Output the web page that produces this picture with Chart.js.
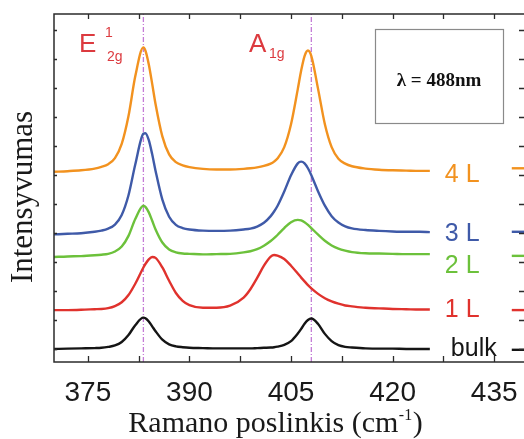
<!DOCTYPE html>
<html>
<head>
<meta charset="utf-8">
<title>MoS2 Raman spectra</title>
<script src="https://cdn.jsdelivr.net/npm/chart.js@4.4.1/dist/chart.umd.min.js"></script>
<style>
  html, body { margin: 0; padding: 0; background: #fff; overflow: hidden; width: 524px; height: 439px; }
  #wrap { width: 540px; height: 439px; }
</style>
</head>
<body>
<div id="wrap"><canvas id="raman" width="540" height="439"></canvas></div>
<script>
// Raman shift sampling points, cm^-1
const ramanShift = [370, 372, 374, 376, 377, 378, 379, 380, 381, 382, 383.2, 383.5, 384, 384.5, 385,
  386, 387, 388, 389, 390, 392, 394, 396, 398, 399, 400, 401, 402, 402.5, 403, 404, 405, 406, 406.5,
  407, 407.5, 408, 409, 410, 411, 412, 413, 414, 416, 418, 420, 422, 424, 425.5];

// Intensity (a.u., vertically offset) for each sample thickness
const layer4 = [6.11, 6.13, 6.16, 6.22, 6.28, 6.37, 6.58, 7.07, 8.03, 9.40, 10.40, 10.29, 9.81, 9.14, 8.44,
  7.33, 6.71, 6.44, 6.33, 6.27, 6.21, 6.19, 6.19, 6.21, 6.23, 6.26, 6.31, 6.39, 6.46, 6.57, 6.96, 7.75, 8.96, 9.60,
  10.10, 10.29, 10.10, 8.96, 7.75, 6.96, 6.56, 6.39, 6.30, 6.22, 6.18, 6.16, 6.15, 6.14, 6.14];
const layer3 = [3.95, 3.97, 3.99, 4.04, 4.08, 4.15, 4.29, 4.62, 5.30, 6.36, 7.42, 7.44, 7.20, 6.71, 6.14,
  5.15, 4.56, 4.28, 4.17, 4.12, 4.08, 4.07, 4.08, 4.12, 4.15, 4.22, 4.35, 4.58, 4.74, 4.93, 5.43, 5.99, 6.40, 6.46,
  6.40, 6.23, 5.99, 5.43, 4.94, 4.58, 4.36, 4.23, 4.16, 4.10, 4.07, 4.05, 4.04, 4.04, 4.03];
const layer2 = [3.17, 3.19, 3.20, 3.23, 3.25, 3.28, 3.36, 3.53, 3.90, 4.48, 4.94, 4.90, 4.71, 4.42, 4.12,
  3.67, 3.43, 3.33, 3.29, 3.28, 3.26, 3.27, 3.28, 3.33, 3.37, 3.44, 3.56, 3.72, 3.82, 3.93, 4.17, 4.37, 4.45, 4.43,
  4.37, 4.28, 4.17, 3.94, 3.73, 3.57, 3.46, 3.39, 3.34, 3.30, 3.29, 3.28, 3.27, 3.27, 3.27];
const layer1 = [1.34, 1.34, 1.35, 1.37, 1.38, 1.41, 1.48, 1.61, 1.86, 2.25, 2.81, 2.93, 3.09, 3.17, 3.14,
  2.81, 2.35, 1.93, 1.66, 1.51, 1.42, 1.42, 1.49, 1.77, 2.06, 2.45, 2.87, 3.18, 3.24, 3.22, 3.10, 2.87, 2.60, 2.46,
  2.33, 2.20, 2.09, 1.90, 1.75, 1.64, 1.56, 1.50, 1.47, 1.42, 1.40, 1.38, 1.37, 1.36, 1.36];
const bulk = [0.00, 0.01, 0.02, 0.03, 0.04, 0.07, 0.12, 0.24, 0.48, 0.82, 1.08, 1.06, 0.95, 0.78, 0.61,
  0.32, 0.16, 0.09, 0.06, 0.04, 0.03, 0.02, 0.02, 0.02, 0.02, 0.03, 0.04, 0.05, 0.06, 0.08, 0.14, 0.27, 0.53, 0.69,
  0.87, 1.00, 1.05, 0.86, 0.52, 0.27, 0.13, 0.07, 0.05, 0.02, 0.01, 0.01, 0.00, 0.00, 0.00];

// Trace names, top to bottom
const traceNames = ['4 L', '3 L', '2 L', '1 L', 'bulk'];
// Levels of the short trace stubs at the right edge, same order
const edgeLevels = [6.23, 4.04, 3.21, 1.34, -0.03];
const edgeStart = 437.6;

// Mode positions (E1_2g and A_1g of bulk), cm^-1
const modeLines = [383.2, 408.0];

// Axis ranges and ticks
const xMin = 370, xMax = 439.7;
const yMin = -0.45, yMax = 11.55;
const xTickValues = [375, 382.5, 390, 397.5, 405, 412.5, 420, 427.5, 435];
const xLabelStep = 15;
const yTickValues = [0, 1, 2, 3, 4, 5, 6, 7, 8, 9, 10, 11];

const traceValues = [layer4, layer3, layer2, layer1, bulk];
const traceColors = ['#f2921f', '#3f5aa8', '#6cc13b', '#e0322d', '#151515'];
// label placement relative to the end of each trace: [dx, dy] in px
const labelShift = [[15, 11], [15, 9], [15, 19], [15, 7], [21, 7]];

const SANS = '"Liberation Sans", Arial, Helvetica, sans-serif';
const SERIF = '"Liberation Serif", "Times New Roman", Times, serif';
const MODE_RED = '#dc3a3f';

const datasets = [];
traceValues.forEach((vals, i) => {
  datasets.push({
    label: traceNames[i],
    data: ramanShift.map((x, k) => ({ x, y: vals[k] })),
    borderColor: traceColors[i],
    borderWidth: 2.4,
    pointRadius: 0,
    fill: false,
    cubicInterpolationMode: 'monotone',
    order: 1
  });
});
modeLines.forEach(v => {
  datasets.push({
    label: 'mode ' + v,
    data: [{ x: v, y: yMin }, { x: v, y: yMax }],
    borderColor: '#c47bd6',
    borderWidth: 1.3,
    borderDash: [5, 2, 1, 2],
    pointRadius: 0,
    fill: false,
    order: 5
  });
});
edgeLevels.forEach((lvl, i) => {
  datasets.push({
    label: traceNames[i] + ' stub',
    data: [{ x: edgeStart, y: lvl }, { x: xMax, y: lvl }],
    borderColor: traceColors[i],
    borderWidth: 2.4,
    pointRadius: 0,
    fill: false,
    order: 1
  });
});

const decorations = {
  id: 'decorations',
  afterDatasetsDraw(chart) {
    const { ctx, chartArea: a, scales } = chart;
    const xs = scales.x, ys = scales.y;
    ctx.save();

    // inward tick marks on all four sides
    ctx.strokeStyle = '#2b2b2b';
    ctx.lineWidth = 1.3;
    ctx.beginPath();
    xTickValues.forEach(v => {
      const px = Math.round(xs.getPixelForValue(v)) + 0.5;
      ctx.moveTo(px, a.bottom); ctx.lineTo(px, a.bottom - 6);
      ctx.moveTo(px, a.top); ctx.lineTo(px, a.top + 5);
    });
    yTickValues.forEach(v => {
      const py = Math.round(ys.getPixelForValue(v)) + 0.5;
      ctx.moveTo(a.left, py); ctx.lineTo(a.left + 3, py);
      ctx.moveTo(a.right, py); ctx.lineTo(a.right - 7, py);
    });
    ctx.stroke();

    // plot frame
    ctx.lineWidth = 1.5;
    ctx.strokeRect(a.left, a.top, a.right - a.left, a.bottom - a.top);

    // trace labels
    ctx.font = '25px ' + SANS;
    ctx.textAlign = 'left';
    ctx.textBaseline = 'alphabetic';
    const lastX = ramanShift[ramanShift.length - 1];
    traceValues.forEach((vals, i) => {
      const px = xs.getPixelForValue(lastX) + labelShift[i][0];
      const py = ys.getPixelForValue(vals[vals.length - 1]) + labelShift[i][1];
      ctx.fillStyle = traceColors[i];
      ctx.fillText(traceNames[i], px, py);
    });

    // mode labels: E^1_2g and A_1g
    ctx.fillStyle = MODE_RED;
    ctx.font = '26px ' + SANS;
    ctx.fillText('E', 79, 52);
    ctx.fillText('A', 249, 52);
    ctx.font = '14px ' + SANS;
    ctx.fillText('1', 105, 37);
    ctx.fillText('2g', 107, 61);
    ctx.fillText('1g', 269, 58);

    // excitation wavelength box
    ctx.fillStyle = '#fff';
    ctx.fillRect(375, 29, 128, 94);
    ctx.strokeStyle = '#8a8a8a';
    ctx.lineWidth = 1.2;
    ctx.strokeRect(375.5, 29.5, 128, 94);
    ctx.fillStyle = '#111';
    ctx.font = 'bold 19px ' + SERIF;
    ctx.textAlign = 'center';
    ctx.fillText('\u03bb = 488nm', 439, 86);

    ctx.restore();
  },
  afterDraw(chart) {
    const { ctx } = chart;
    ctx.save();
    ctx.fillStyle = '#1a1a1a';
    ctx.textBaseline = 'alphabetic';

    // y-axis title
    ctx.font = '31px ' + SERIF;
    ctx.textAlign = 'center';
    ctx.translate(31.5, 197);
    ctx.rotate(-Math.PI / 2);
    ctx.fillText('Intensyvumas', 0, 0);
    ctx.setTransform(1, 0, 0, 1, 0, 0);

    // x-axis title with superscript unit
    const main = 'Ramano poslinkis (cm', sup = '-1', tail = ')';
    ctx.textAlign = 'left';
    ctx.font = '30px ' + SERIF;
    const wMain = ctx.measureText(main).width, wTail = ctx.measureText(tail).width;
    ctx.font = '16px ' + SERIF;
    const wSup = ctx.measureText(sup).width;
    let x0 = 275 - (wMain + wSup + wTail) / 2;
    const base = 432;
    ctx.font = '30px ' + SERIF;
    ctx.fillText(main, x0, base);
    ctx.font = '16px ' + SERIF;
    ctx.fillText(sup, x0 + wMain + 0.5, base - 12);
    ctx.font = '30px ' + SERIF;
    ctx.fillText(tail, x0 + wMain + wSup + 1, base);
    ctx.restore();
  }
};

new Chart(document.getElementById('raman'), {
  type: 'line',
  data: { datasets },
  options: {
    responsive: false,
    animation: false,
    devicePixelRatio: 1,
    layout: { padding: { left: 54, right: 14, top: 14, bottom: 0 } },
    plugins: { legend: { display: false }, tooltip: { enabled: false } },
    scales: {
      x: {
        type: 'linear',
        position: 'bottom',
        min: xMin,
        max: xMax,
        grid: { display: false },
        border: { display: false },
        afterBuildTicks: s => { s.ticks = xTickValues.map(v => ({ value: v })); },
        afterFit: s => { s.height = 77; },
        ticks: {
          autoSkip: false,
          maxRotation: 0,
          padding: 6,
          color: '#1a1a1a',
          font: { family: SANS, size: 28 },
          callback: v => (v % xLabelStep === 0 ? String(v) : '')
        }
      },
      y: { type: 'linear', min: yMin, max: yMax, display: false }
    }
  },
  plugins: [decorations]
});
</script>
</body>
</html>
